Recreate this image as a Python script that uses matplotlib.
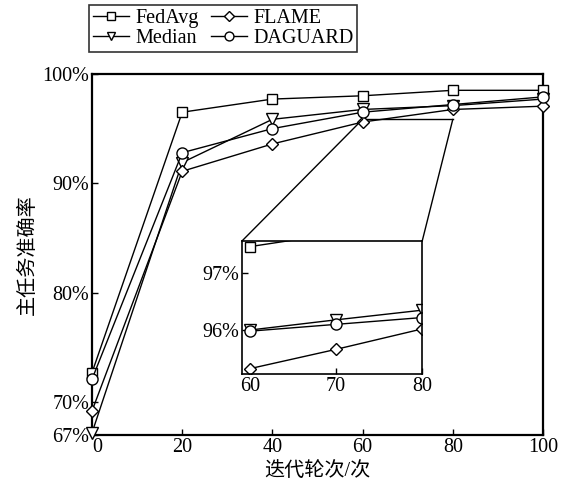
import numpy as np
import matplotlib
matplotlib.use("Agg")
import matplotlib.pyplot as plt
from matplotlib.patches import ConnectionPatch
from matplotlib.transforms import ScaledTranslation

plt.rcParams['font.family'] = ['Liberation Serif', 'Noto Sans CJK SC']
plt.rcParams['mathtext.fontset'] = 'stix'

# main series
rounds = [0, 20, 40, 60, 80, 100]
fedavg = [72.7, 96.5, 97.7, 98.0, 98.5, 98.5]
median = [67.2, 91.9, 95.85, 96.75, 97.1, 97.7]
flame = [69.2, 91.1, 93.6, 95.6, 96.75, 97.05]
daguard = [72.1, 92.8, 95.0, 96.5, 97.2, 97.9]

# zoomed inset series (rounds 60-80)
inset_rounds = [60, 70, 80]
inset_fedavg = [97.47, 97.70, 97.93]
inset_median = [96.0, 96.18, 96.35]
inset_flame = [95.32, 95.66, 96.02]
inset_daguard = [95.98, 96.1, 96.22]

yticks = [67, 70, 80, 90, 100]
xticks = [0, 20, 40, 60, 80, 100]

series = [("FedAvg", fedavg, inset_fedavg, "s"),
          ("Median", median, inset_median, "v"),
          ("FLAME", flame, inset_flame, "D"),
          ("DAGUARD", daguard, inset_daguard, "o")]
msize = {"s": 7, "v": 8, "D": 6.5, "o": 8}
fs = 14.5

fig = plt.figure(figsize=(5.68, 4.96), dpi=100)
ax = fig.add_axes([0.162, 0.123, 0.794, 0.728])

handles = {}
for name, vals, _, m in series:
    h, = ax.plot(rounds, vals, color="black", lw=1.0, marker=m, ms=msize[m],
                 mfc="white", mec="black", mew=1.0, clip_on=False, zorder=3)
    handles[name] = h

ax.set_xlim(0, 100)
ax.set_ylim(67, 100)
ax.set_xticks(xticks)
ax.set_yticks(yticks)
ax.set_yticklabels([f"{v}%" for v in yticks])
ax.tick_params(direction="in", length=4, width=1, labelsize=fs, pad=2)
for s in ax.spines.values():
    s.set_linewidth(1.6)
ax.set_xlabel("迭代轮次/次", fontsize=fs, labelpad=4)
ax.set_ylabel("主任务准确率", fontsize=fs, labelpad=3)

# nudge the "0" label right so it clears "67%"
lab0 = ax.get_xticklabels()[0]
lab0.set_transform(lab0.get_transform() + ScaledTranslation(4 / 72, 0, fig.dpi_scale_trans))

# zoom box bottom edge in main axes
ax.plot([60, 80], [95.85, 95.85], color="black", lw=1.0, zorder=2)

leg = fig.legend([handles["FedAvg"], handles["Median"], handles["FLAME"], handles["DAGUARD"]],
                 ["FedAvg", "Median", "FLAME", "DAGUARD"],
                 ncol=2, loc="upper left", bbox_to_anchor=(89 / 568, 1 - 5 / 496),
                 fontsize=fs, frameon=True, fancybox=False, edgecolor="black",
                 handlelength=1.8, handletextpad=0.3, columnspacing=0.6,
                 labelspacing=0.05, borderpad=0.2, borderaxespad=0, markerscale=0.8)
leg.get_frame().set_linewidth(1.2)

# inset
axins = fig.add_axes([0.4266, 0.2454, 0.3169, 0.2694])
for name, _, ivals, m in series:
    axins.plot(inset_rounds, ivals, color="black", lw=1.0, marker=m, ms=msize[m],
               mfc="white", mec="black", mew=1.0, clip_on=True)
axins.set_xlim(59.1, 80)
axins.set_ylim(95.22, 97.575)
axins.set_xticks([60, 70, 80])
axins.set_yticks([96, 97])
axins.set_yticklabels(["96%", "97%"])
axins.tick_params(direction="in", length=4, width=1, labelsize=fs, pad=2)
for s in axins.spines.values():
    s.set_linewidth(1.2)

# connector lines from zoom box to inset corners
for xm, xi in [(60, 0.0), (80, 1.0)]:
    con = ConnectionPatch(xyA=(xm, 95.85), coordsA=ax.transData,
                          xyB=(xi, 1.0), coordsB=axins.transAxes,
                          color="black", lw=1.0)
    fig.add_artist(con)

fig.savefig("out.png", dpi=100)
